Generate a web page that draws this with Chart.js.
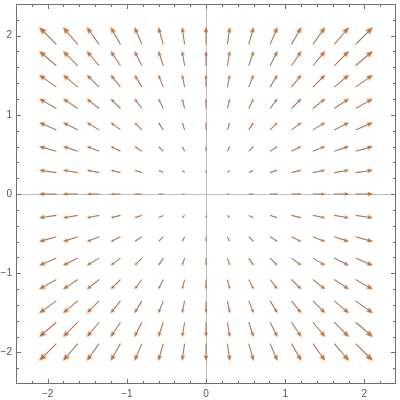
<!DOCTYPE html>
<html>
<head>
<meta charset="utf-8">
<script src="https://cdn.jsdelivr.net/npm/chart.js@4.4.1/dist/chart.umd.min.js"></script>
<style>
  html, body { margin: 0; padding: 0; background: #fff; }
  #wrap { width: 400px; height: 400px; }
</style>
</head>
<body>
<div id="wrap"><canvas id="field"></canvas></div>
<script>
// ── Sample grid (15 x 15 points over [-2, 2]) ──
const gridX = [-2, -1.714, -1.429, -1.143, -0.857, -0.571, -0.286, 0, 0.286, 0.571, 0.857, 1.143, 1.429, 1.714, 2];
const gridY = [-2, -1.714, -1.429, -1.143, -0.857, -0.571, -0.286, 0, 0.286, 0.571, 0.857, 1.143, 1.429, 1.714, 2];

// ── Vector field v(x, y) = (x, y) ──
const fieldU = (x, y) => x;
const fieldV = (x, y) => y;

// ── Axis ticks ──
const tickLabels = [-2, -1, 0, 1, 2];
const frameTicks = [-2.2, -2, -1.8, -1.6, -1.4, -1.2, -1, -0.8, -0.6, -0.4, -0.2, 0,
                    0.2, 0.4, 0.6, 0.8, 1, 1.2, 1.4, 1.6, 1.8, 2, 2.2];

const ARROW_SCALE = 0.11;   // data units of arrow length per unit magnitude
const HEAD_COLOR = '#c8702c';
const SHAFT_COLOR = '#a8785a';

// ── Build shafts (line with gaps) and head anchors ──
const shaftData = [];
const headData = [];
const headAngle = [];
const headLen = [];

gridY.forEach(y => {
  gridX.forEach(x => {
    const u = fieldU(x, y), v = fieldV(x, y);
    const m = Math.hypot(u, v);
    if (m === 0) return;
    const dx = u * ARROW_SCALE, dy = v * ARROW_SCALE;
    const hl = 0.32 * m * ARROW_SCALE;
    const tip = { x: x + dx / 2, y: y + dy / 2 };
    shaftData.push({ x: x - dx / 2, y: y - dy / 2 });
    shaftData.push({ x: tip.x - (u / m) * hl * 0.5, y: tip.y - (v / m) * hl * 0.5 });
    shaftData.push({ x: null, y: null });
    headData.push(tip);
    headAngle.push(90 - Math.atan2(v, u) * 180 / Math.PI);
    headLen.push(hl);
  });
});

// ── Arrowhead sprites, tip at the sprite centre ──
const headCache = {};
function headStyle(chart, i) {
  const sx = chart.scales.x;
  const ppu = sx.getPixelForValue(1) - sx.getPixelForValue(0);
  const L = headLen[i] * ppu;
  const W = L * 0.8;
  const key = L.toFixed(2);
  if (headCache[key]) return headCache[key];
  const s = Math.ceil(L) + 2;
  const cv = document.createElement('canvas');
  cv.width = cv.height = 2 * s;
  const g = cv.getContext('2d');
  g.fillStyle = HEAD_COLOR;
  g.beginPath();
  g.moveTo(s, s);
  g.lineTo(s - W / 2, s + L);
  g.lineTo(s, s + L * 0.85);
  g.lineTo(s + W / 2, s + L);
  g.closePath();
  g.fill();
  headCache[key] = cv;
  return cv;
}

// ── Frame with inward ticks ──
const framePlugin = {
  id: 'frame',
  afterDatasetsDraw(chart) {
    const { ctx, chartArea: a, scales: { x, y } } = chart;
    ctx.save();
    ctx.strokeStyle = '#707070';
    ctx.lineWidth = 1;
    ctx.strokeRect(a.left + 0.5, a.top + 0.5, a.width - 1, a.height - 1);
    ctx.beginPath();
    frameTicks.forEach(v => {
      const len = tickLabels.includes(v) ? 5 : 3;
      const px = Math.round(x.getPixelForValue(v)) + 0.5;
      ctx.moveTo(px, a.bottom); ctx.lineTo(px, a.bottom - len);
      ctx.moveTo(px, a.top); ctx.lineTo(px, a.top + len);
      const py = Math.round(y.getPixelForValue(v)) + 0.5;
      ctx.moveTo(a.left, py); ctx.lineTo(a.left + len, py);
      ctx.moveTo(a.right, py); ctx.lineTo(a.right - len, py);
    });
    ctx.stroke();
    ctx.restore();
  }
};

const labelFn = v => v < 0 ? '\u2212' + Math.abs(v) : String(v);
const zeroLine = c => (c.tick && c.tick.value === 0) ? '#bdbdbd' : 'rgba(0,0,0,0)';
const setTicks = s => { s.ticks = tickLabels.map(v => ({ value: v })); };

new Chart(document.getElementById('field'), {
  type: 'scatter',
  data: {
    datasets: [
      {
        data: shaftData,
        showLine: true,
        spanGaps: false,
        borderColor: SHAFT_COLOR,
        borderWidth: 1.1,
        pointRadius: 0
      },
      {
        data: headData,
        pointStyle: c => headStyle(c.chart, c.dataIndex),
        pointRotation: headAngle,
        pointRadius: 3,
        pointBackgroundColor: HEAD_COLOR,
        pointBorderWidth: 0
      }
    ]
  },
  options: {
    responsive: true,
    maintainAspectRatio: false,
    animation: false,
    layout: { padding: { top: 0, right: 2, left: 0, bottom: 0 } },
    plugins: { legend: { display: false }, tooltip: { enabled: false } },
    scales: {
      x: {
        type: 'linear',
        min: -2.4,
        max: 2.4,
        afterBuildTicks: setTicks,
        afterFit: s => { s.height = 16; s.paddingLeft = 0; s.paddingRight = 0; },
        border: { display: false },
        grid: { color: zeroLine, lineWidth: 1, drawTicks: false },
        ticks: {
          autoSkip: false,
          maxRotation: 0,
          padding: 4,
          color: '#555',
          font: { family: 'Liberation Sans', size: 10 },
          callback: labelFn
        }
      },
      y: {
        type: 'linear',
        min: -2.4,
        max: 2.4,
        afterBuildTicks: setTicks,
        afterFit: s => { s.width = 16; s.paddingTop = 0; s.paddingBottom = 0; },
        border: { display: false },
        grid: { color: zeroLine, lineWidth: 1, drawTicks: false },
        ticks: {
          autoSkip: false,
          padding: 4,
          color: '#555',
          font: { family: 'Liberation Sans', size: 10 },
          callback: labelFn
        }
      }
    }
  },
  plugins: [framePlugin]
});
</script>
</body>
</html>
